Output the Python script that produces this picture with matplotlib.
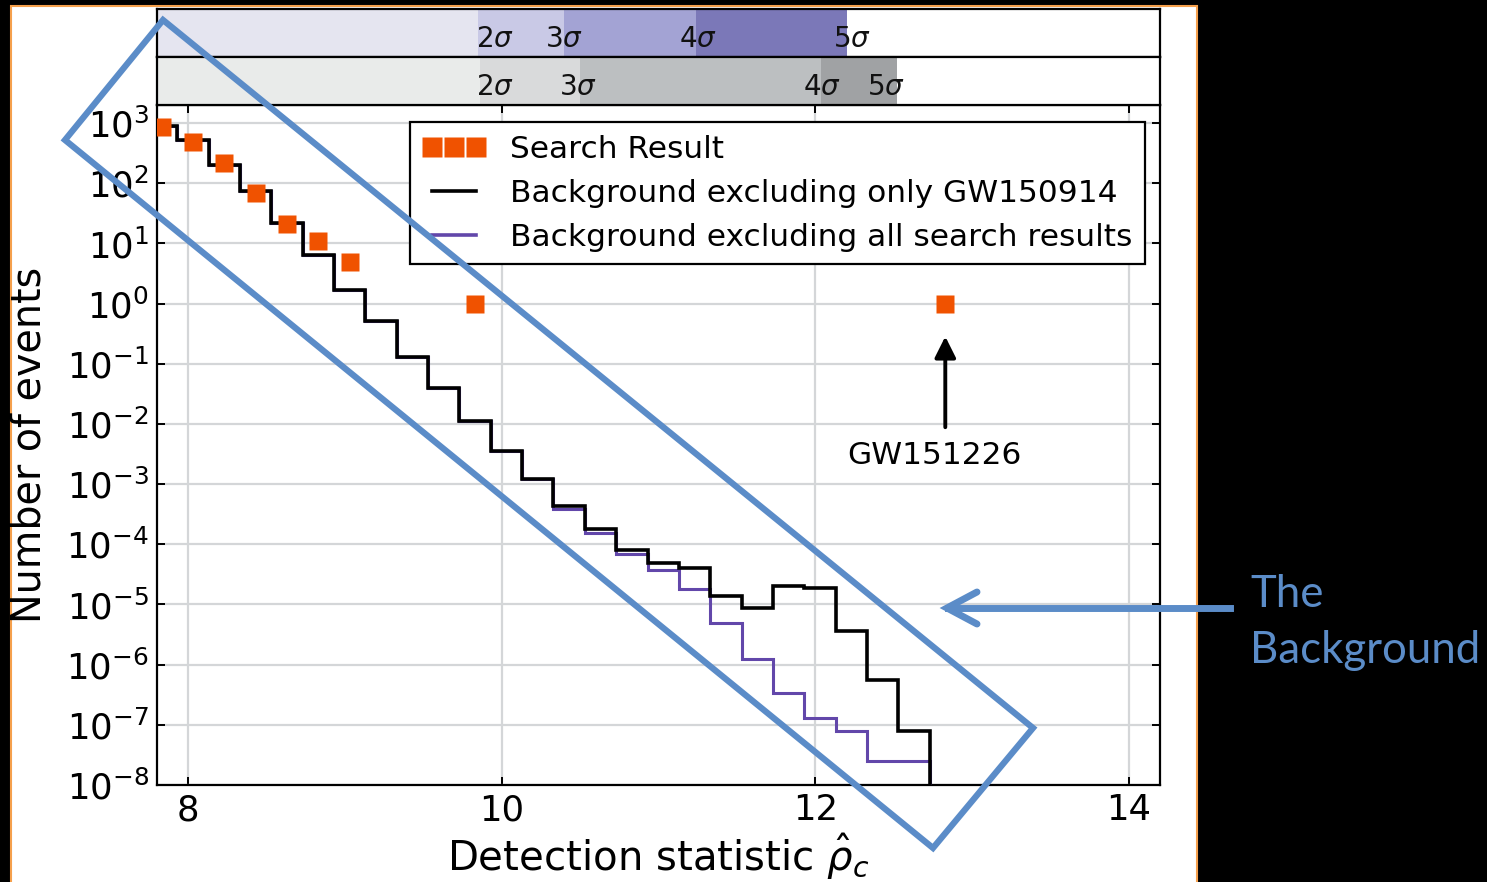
import numpy as np
import matplotlib
matplotlib.use("Agg")
import matplotlib.pyplot as plt
from matplotlib.patches import Rectangle, Polygon
from matplotlib.lines import Line2D

# background histograms (events per bin), bins of width 0.2
bin_edges = np.linspace(7.73, 12.73, 26)
bg_only_gw150914 = [890, 525, 204, 74, 21.9, 6.5, 1.7, 0.51, 0.13, 0.040, 0.011,
                    3.5e-3, 1.2e-3, 4.3e-4, 1.8e-4, 8.1e-5, 4.9e-5, 4.1e-5, 1.4e-5,
                    8.7e-6, 2.0e-5, 1.9e-5, 3.6e-6, 5.6e-7, 7.8e-8]
bg_all_results = [890, 525, 204, 74, 21.9, 6.5, 1.7, 0.51, 0.13, 0.040, 0.011,
                  3.5e-3, 1.2e-3, 3.9e-4, 1.55e-4, 6.8e-5, 3.8e-5, 1.8e-5, 5.0e-6,
                  1.23e-6, 3.4e-7, 1.3e-7, 7.8e-8, 2.5e-8, 2.5e-8]

# search result candidates
search_x = [7.83, 8.03, 8.23, 8.43, 8.63, 8.83, 9.03, 9.83, 12.83]
search_n = [870, 490, 215, 70, 21, 11, 5, 1, 1]

# significance bands (upper: excluding all results, lower: excluding GW150914)
sigma_names = ["2", "3", "4", "5"]
upper_edges = [9.85, 10.40, 11.24, 12.20]
upper_label_x = [9.955, 10.395, 11.255, 12.235]
upper_colors = ["#e5e5f0", "#c9c9e6", "#a3a3d4", "#7b78b8"]
lower_edges = [9.86, 10.50, 12.04, 12.52]
lower_label_x = [9.955, 10.485, 12.04, 12.45]
lower_colors = ["#e9ebea", "#d9dadb", "#bcbfc1", "#a0a2a4"]

xmin, xmax = 7.8, 14.2

W, H = 1487, 882
fig = plt.figure(figsize=(W / 100, H / 100), dpi=100, facecolor="black")


def fx(px):
    return px / W


def fy(py):
    return 1 - py / H


# white slide panel with thin orange outline
fig.patches.append(Rectangle((fx(11), -0.01), fx(1197) - fx(11), fy(6) + 0.01,
                             transform=fig.transFigure, facecolor="white",
                             edgecolor="#f5a04c", lw=1.5, zorder=-5))

ax = fig.add_axes([fx(157), fy(785), fx(1160) - fx(157), fy(105) - fy(785)])
ax_up = fig.add_axes([fx(157), fy(57), fx(1160) - fx(157), fy(9) - fy(57)])
ax_lo = fig.add_axes([fx(157), fy(105), fx(1160) - fx(157), fy(57) - fy(105)])

for band, edges, colors, lx in [(ax_up, upper_edges, upper_colors, upper_label_x),
                                (ax_lo, lower_edges, lower_colors, lower_label_x)]:
    left = xmin
    for e, c in zip(edges, colors):
        band.axvspan(left, e, color=c, lw=0)
        left = e
    for name, x in zip(sigma_names, lx):
        band.text(x, 0.08, r"$%s\sigma$" % name, ha="center", va="bottom",
                  fontsize=20, color="#111111")
    band.set_xlim(xmin, xmax)
    band.set_ylim(0, 1)
    band.set_xticks([])
    band.set_yticks([])
    for s in band.spines.values():
        s.set_linewidth(1.6)

ax.stairs(bg_all_results, bin_edges, baseline=1e-12, color="#6247aa", lw=2.2, zorder=3)
ax.stairs(bg_only_gw150914, bin_edges, baseline=1e-12, color="black", lw=2.6, zorder=4)
ax.plot(search_x, search_n, "s", color="#f05200", ms=13, mec="none", zorder=5)

ax.set_yscale("log")
ax.set_xlim(xmin, xmax)
ax.set_ylim(1e-8, 2e3)
ax.set_yticks([10.0 ** k for k in range(-8, 4)])
ax.yaxis.set_minor_locator(matplotlib.ticker.NullLocator())
ax.set_xticks([8, 10, 12, 14])
ax.grid(True, color="#d4d6d8", lw=1.6)
ax.set_axisbelow(True)
ax.tick_params(direction="in", length=6, width=1.4, labelsize=25.5, pad=6,
               top=True, right=True)
for s in ax.spines.values():
    s.set_linewidth(1.6)

ax.set_xlabel(r"Detection statistic $\hat{\rho}_c$", fontsize=29, labelpad=3)
ax.set_ylabel("Number of events", fontsize=28.5)
ax.yaxis.set_label_coords(-0.107, 0.5)

handles = [Line2D([], [], ls="none", marker="s", color="#f05200", ms=15, mec="none"),
           Line2D([], [], color="black", lw=2.6),
           Line2D([], [], color="#6247aa", lw=2.6)]
labels = ["Search Result", "Background excluding only GW150914",
          "Background excluding all search results"]
leg = ax.legend(handles, labels, loc="upper right", bbox_to_anchor=(0.985, 0.975),
                borderaxespad=0, numpoints=3, fontsize=22.5, fancybox=False,
                framealpha=1, edgecolor="black", handlelength=2.0,
                handletextpad=0.8, labelspacing=0.48, borderpad=0.4)
leg.get_frame().set_linewidth(1.6)
leg.set_zorder(6)

# mark GW151226
ax.annotate("", xy=(12.83, 10 ** -0.5), xytext=(12.83, 10 ** -2.1),
            arrowprops=dict(arrowstyle="-|>", color="black", lw=2.8,
                            mutation_scale=32))
ax.text(12.76, 10 ** -2.52, "GW151226", ha="center", va="center", fontsize=22.5)

# highlight box around the background curves
blue = "#5b8cc8"
box = Polygon([(fx(163), fy(20)), (fx(1033), fy(728)), (fx(933), fy(848)),
               (fx(65), fy(140))], closed=True, fill=False, edgecolor=blue,
              lw=4.5, transform=fig.transFigure, zorder=10, joinstyle="miter")
fig.patches.append(box)
fig.lines.append(Line2D([fx(1230), fx(948)], [fy(608), fy(608)], color=blue, lw=5,
                        transform=fig.transFigure, zorder=10))
fig.lines.append(Line2D([fx(977), fx(947), fx(977)], [fy(592), fy(608), fy(624)],
                        color=blue, lw=5, transform=fig.transFigure, zorder=10,
                        solid_capstyle="round", solid_joinstyle="miter"))
fig.text(fx(1250), fy(607), "The", color=blue, fontsize=31.5, family="Lato",
         ha="left", va="baseline")
fig.text(fx(1250), fy(663), "Background", color=blue, fontsize=31.5, family="Lato",
         ha="left", va="baseline")

fig.savefig("out.png", dpi=100, facecolor=fig.get_facecolor())
